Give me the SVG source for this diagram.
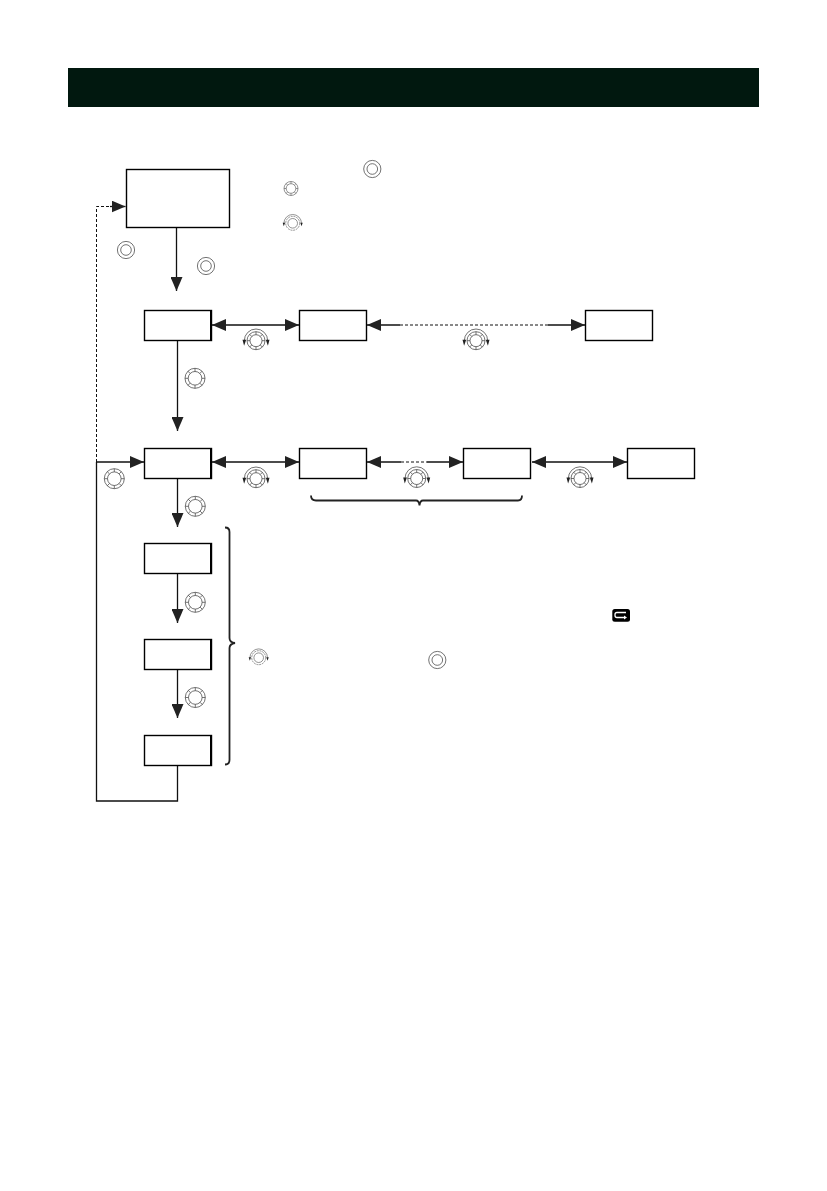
<svg xmlns="http://www.w3.org/2000/svg" width="827" height="1191" viewBox="0 0 827 1191">
<style>
.n{fill:#fff;stroke:#000;stroke-width:1.4}
.t{fill:none;stroke:#000;stroke-width:2}
.c{fill:none;stroke:#111;stroke-width:1.3}
.d{stroke-dasharray:3 2;stroke-width:1}
.b{fill:none;stroke:#222;stroke-width:1.8}
.k circle,.k path{fill:none;stroke:#444;stroke-width:.75}
.k path.h{fill:#222;stroke:none}
.s circle,.s path{fill:none;stroke:#666;stroke-width:.7}
.s path.h{fill:#222;stroke:none}
</style>
<defs>
<marker id="a" viewBox="0 0 14 12" markerWidth="14" markerHeight="12" markerUnits="userSpaceOnUse" refX="14" refY="6" orient="auto-start-reverse"><path d="M0 0L14 6L0 12Z" fill="#222"/></marker>
<g id="press" class="k"><circle r="8.600"/><circle r="5.300"/></g>
<g id="dial" class="k"><circle r="10"/><circle r="6.800"/><path d="M0-10V-6.800M0 10V6.800M-10 0H-6.800M10 0H6.800M-7.100-7.100L-4.800-4.800M7.100-7.100L4.800-4.800M-7.100 7.100L-4.800 4.800M7.100 7.100L4.800 4.800"/></g>
<g id="rot" class="k"><circle r="9"/><circle r="6"/><path d="M0-9V-6M0 9V6M-9 0H-6M9 0H6M-6.400-6.400L-4.200-4.200M6.400-6.400L4.200-4.200M-6.400 6.400L-4.200 4.200M6.400 6.400L4.200 4.200"/><path d="M-11.700 0A11.700 11.700 0 0 1 11.700 0"/><path class="h" d="M-13.500-1L-9.800-1L-11.900 5ZM13.500-1L9.800-1L11.900 5Z"/></g>
<g id="rots" class="s"><circle r="7" stroke-dasharray="2 .8"/><circle r="4.800"/><path d="M-8.800 0A8.800 8.800 0 0 1 8.800 0"/><path class="h" d="M-10-.5L-7.600-.5L-8.900 3ZM10-.5L7.600-.5L8.900 3Z"/></g>
<g id="dials" class="s"><circle r="7"/><circle r="4.800"/><path d="M0-7V-4.800M0 7V4.800M-7 0H-4.800M7 0H4.800M-5-5L-3.400-3.400M5-5L3.400-3.400M-5 5L-3.400 3.400M5 5L3.400 3.400"/></g>
</defs>
<rect id="page" width="827" height="1191" fill="#fff"/>
<rect id="header" x="68" y="68" width="691" height="39" fill="#01180f"/>
<g id="connectors">
<path class="c" d="M176.500 228V291" marker-end="url(#a)"/>
<path class="c d" d="M96.500 462V206.500H112"/>
<path class="c" d="M110 206.500H125.500" marker-end="url(#a)"/>
<path class="c" d="M177.500 341V431" marker-end="url(#a)"/>
<path class="c" d="M212 325H299" marker-start="url(#a)" marker-end="url(#a)"/>
<path class="c" d="M367 325H400" marker-start="url(#a)"/>
<path class="c" d="M548 325H585" marker-end="url(#a)"/>
<path class="c d" d="M400 325H548"/>
<path class="c" d="M96.500 462V801H177.500V766"/>
<path class="c" d="M96.500 462H144" marker-end="url(#a)"/>
<path class="c" d="M177.500 479V527" marker-end="url(#a)"/>
<path class="c" d="M177.500 574V623" marker-end="url(#a)"/>
<path class="c" d="M177.500 670V718" marker-end="url(#a)"/>
<path class="c" d="M212 462H299" marker-start="url(#a)" marker-end="url(#a)"/>
<path class="c" d="M367 462H401" marker-start="url(#a)"/>
<path class="c" d="M427 462H463" marker-end="url(#a)"/>
<path class="c d" d="M401 462H427"/>
<path class="c" d="M532 462H627" marker-start="url(#a)" marker-end="url(#a)"/>
<path class="b" d="M311 495.500Q311 500.500 316 500.500H416Q419 500.500 419.500 505.500Q420 500.500 423 500.500H518Q522 500.500 522 495.500"/>
<path class="b" d="M225 527.500Q229.500 527.500 229.500 532V638Q229.500 642.500 235 643Q229.500 644 229.500 648V760Q229.500 764.500 225 764.500"/>
</g>
<g id="n1"><rect class="n" x="126.500" y="169.500" width="103" height="58"/></g>
<g id="n2"><rect class="n" x="144.500" y="310.500" width="67" height="30"/><path class="t" d="M211 310V341"/></g>
<g id="n3"><rect class="n" x="299.500" y="310.500" width="67" height="30"/></g>
<g id="n4"><rect class="n" x="585.500" y="310.500" width="67" height="30"/></g>
<g id="n5"><rect class="n" x="144.500" y="448.500" width="67" height="30"/><path class="t" d="M211 448V479"/></g>
<g id="n6"><rect class="n" x="299.500" y="448.500" width="67" height="30"/></g>
<g id="n7"><rect class="n" x="463.500" y="448.500" width="67" height="30"/></g>
<g id="n8"><rect class="n" x="627.500" y="448.500" width="67" height="30"/></g>
<g id="n9"><rect class="n" x="144.500" y="543.500" width="67" height="30"/><path class="t" d="M211 543V574"/></g>
<g id="n10"><rect class="n" x="144.500" y="639.500" width="67" height="30"/><path class="t" d="M211 639V670"/></g>
<g id="n11"><rect class="n" x="144.500" y="735.500" width="67" height="30"/><path class="t" d="M211 735V766"/></g>
<g id="icons">
<use href="#press" x="372.300" y="169"/>
<use href="#dials" x="291" y="188.500"/>
<use href="#rots" x="292.700" y="223.300"/>
<use href="#press" x="126" y="250"/>
<use href="#press" x="206" y="266"/>
<use href="#rot" x="256" y="340.700"/>
<use href="#rot" x="476" y="340.700"/>
<use href="#dial" x="195" y="378.300"/>
<use href="#dial" x="114.300" y="478.700"/>
<use href="#rot" x="256" y="478.700"/>
<use href="#rot" x="416.700" y="478.500"/>
<use href="#rot" x="580" y="478.500"/>
<use href="#dial" x="195.300" y="506.300"/>
<use href="#dial" x="195.300" y="602.300"/>
<use href="#dial" x="195.300" y="697.500"/>
<use href="#rots" x="258.700" y="657.700"/>
<use href="#press" x="437.300" y="660"/>
<rect x="612.300" y="609" width="17.700" height="12.700" rx="2.500" fill="#000"/>
<path d="M626 612.500H617Q615 612.500 615 614.500V615.500Q615 617.500 617 617.500H625" fill="none" stroke="#fff" stroke-width="1.300"/>
<path d="M624 615.500L627 617.500L624 619.500Z" fill="#fff"/>
</g>
</svg>
